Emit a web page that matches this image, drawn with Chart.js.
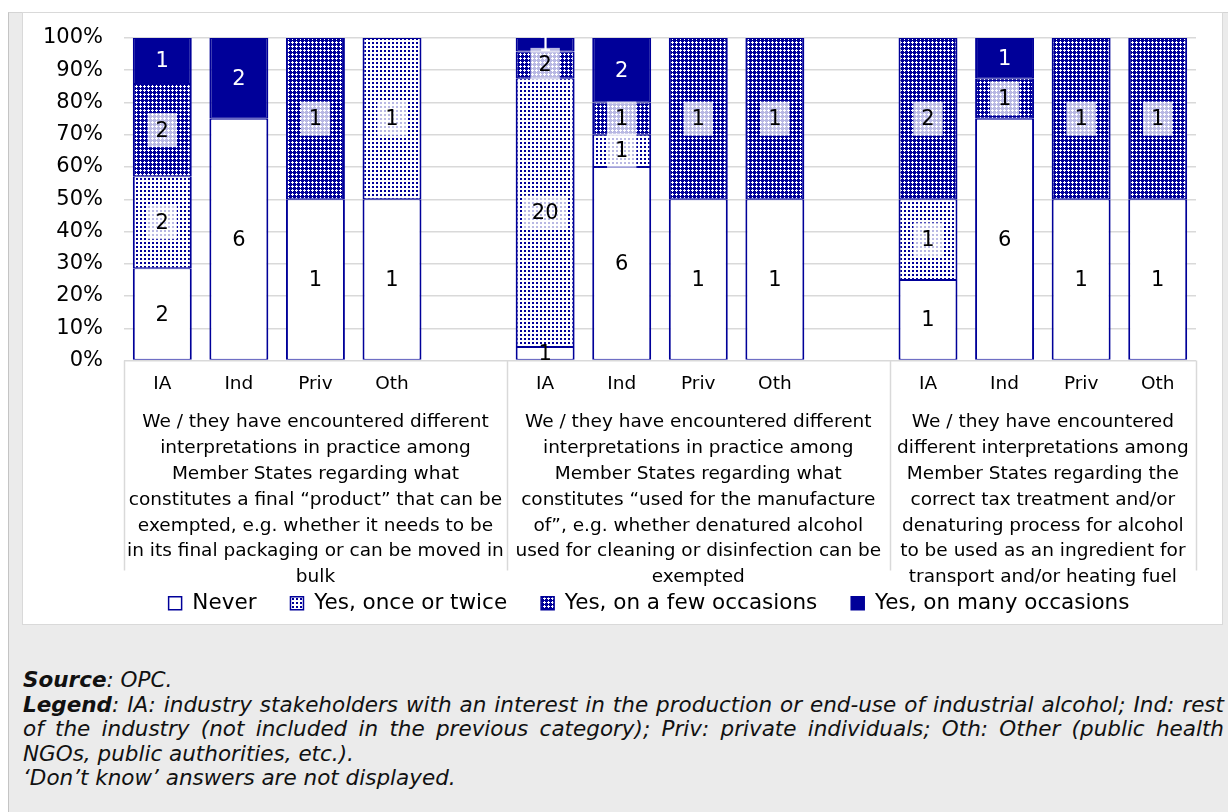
<!DOCTYPE html>
<html>
<head>
<meta charset="utf-8">
<script src="https://cdn.jsdelivr.net/npm/chart.js@4.4.1/dist/chart.umd.min.js"></script>
<style>
  html, body { margin: 0; padding: 0; background: #fff; }
  body { width: 1228px; height: 812px; position: relative; overflow: hidden; font-family: "DejaVu Sans", Verdana, sans-serif; }
  #panel { position: absolute; left: 8px; top: 12px; right: 0; bottom: 0; background: #ebebeb; border-left: 1px solid #c4c4c4; border-top: 1px solid #d4d4d4; }
  #box { position: absolute; left: 22px; top: 12px; width: 1201px; height: 613px; background: #fff; border: 1px solid #d9d9d9; box-sizing: border-box; }
  #chart { position: absolute; left: 23px; top: 13px; }
  #notes { position: absolute; left: 23px; top: 668px; width: 1201px; font-size: 21.5px; font-style: italic; line-height: 24.5px; color: #111; }
  #notes div { white-space: nowrap; }
  #notes .j { text-align: justify; text-align-last: justify; word-spacing: -4px; }
</style>
</head>
<body>
<div id="panel"></div>
<div id="box"></div>
<canvas id="chart" width="1199" height="611"></canvas>
<div id="notes">
  <div><b>Source</b>: OPC.</div>
  <div class="j"><b>Legend</b>: IA: industry stakeholders with an interest in the production or end-use of industrial alcohol; Ind: rest</div>
  <div class="j">of the industry (not included in the previous category); Priv: private individuals; Oth: Other (public health</div>
  <div>NGOs, public authorities, etc.).</div>
  <div>‘Don’t know’ answers are not displayed.</div>
</div>
<script>
const categories = ['IA','Ind','Priv','Oth','', 'IA','Ind','Priv','Oth','', 'IA','Ind','Priv','Oth'];
const seriesNames = ['Never', 'Yes, once or twice', 'Yes, on a few occasions', 'Yes, on many occasions'];
const never         = [2, 6, 1, 1, 0,  1, 6, 1, 1, 0,  1, 6, 1, 1];
const onceOrTwice   = [2, 0, 0, 1, 0, 20, 1, 0, 0, 0,  1, 0, 0, 0];
const fewOccasions  = [2, 0, 1, 0, 0,  2, 1, 1, 1, 0,  2, 1, 1, 1];
const manyOccasions = [1, 2, 0, 0, 0,  1, 2, 0, 0, 0,  0, 1, 0, 0];

// question groups: first and last category slot of each, and the wrapped text
const groupFirst = [0, 5, 10];
const groupLast = [4, 9, 13];
const groupText = [
  ['We / they have encountered different', 'interpretations in practice among', 'Member States regarding what',
   'constitutes a final “product” that can be', 'exempted, e.g. whether it needs to be',
   'in its final packaging or can be moved in', 'bulk'],
  ['We / they have encountered different', 'interpretations in practice among', 'Member States regarding what',
   'constitutes “used for the manufacture', 'of”, e.g. whether denatured alcohol',
   'used for cleaning or disinfection can be', 'exempted'],
  ['We / they have encountered', 'different interpretations among', 'Member States regarding the',
   'correct tax treatment and/or', 'denaturing process for alcohol', 'to be used as an ingredient for',
   'transport and/or heating fuel']
];

const counts = [never, onceOrTwice, fewOccasions, manyOccasions];
const totals = categories.map((c, i) => counts.reduce((a, s) => a + s[i], 0));
const shares = counts.map(s => s.map((v, i) => v && totals[i] ? v / totals[i] * 100 : null));

const BLUE = '#000099';
const FONT = '"DejaVu Sans", Verdana, sans-serif';

function tile(bg, fg, pts, w, h) {
  const c = document.createElement('canvas');
  c.width = w; c.height = h;
  const g = c.getContext('2d');
  g.fillStyle = bg; g.fillRect(0, 0, w, h);
  g.fillStyle = fg;
  pts.forEach(p => g.fillRect(p[0], p[1], p[2] || 1, p[3] || 1));
  return g.createPattern(c, 'repeat');
}
const ctx = document.getElementById('chart').getContext('2d');
const dotted = tile('#fff', BLUE, [[1, 1, 2, 2]], 4, 4);
const checked = tile(BLUE, '#fff', [[1, 0], [0, 1, 3, 1], [1, 2]], 4, 4);
const fills = ['#fff', dotted, checked, BLUE];

const labelsPlugin = {
  id: 'segLabels',
  afterDatasetsDraw(chart) {
    const c = chart.ctx;
    c.save();
    c.font = '21px ' + FONT;
    c.textAlign = 'center';
    c.textBaseline = 'middle';
    [3, 2, 1, 0].forEach(d => {
      chart.getDatasetMeta(d).data.forEach((bar, i) => {
        const v = counts[d][i];
        if (!v) return;
        const x = bar.x, y = (bar.y + bar.base) / 2;
        const w = c.measureText(String(v)).width;
        if (d === 1 || d === 2) {
          c.fillStyle = 'rgba(255,255,255,0.72)';
          c.fillRect(x - w / 2 - 8, y - 17, w + 16, 34);
        }
        c.fillStyle = d === 3 ? '#fff' : '#000';
        c.fillText(String(v), x, y + 1);
      });
    });
    c.restore();
  }
};

const groupPlugin = {
  id: 'groupAxis',
  afterLayout(chart) {
    // Excel centres the legend a little left of the plot centre
    chart.legend.left -= 11;
    chart.legend.right -= 11;
  },
  afterDraw(chart) {
    const c = chart.ctx, xs = chart.scales.x, bottom = chart.chartArea.bottom;
    const slot = xs.width / categories.length;
    c.save();
    c.strokeStyle = '#d9d9d9';
    c.lineWidth = 1.5;
    const edges = groupFirst.map(i => xs.getPixelForValue(i) - slot / 2);
    edges.push(xs.getPixelForValue(categories.length - 1) + slot / 2);
    edges.forEach(x => {
      c.beginPath(); c.moveTo(Math.round(x) + 0.5, bottom); c.lineTo(Math.round(x) + 0.5, bottom + 210); c.stroke();
    });
    c.font = '18.5px ' + FONT;
    c.fillStyle = '#000';
    c.textAlign = 'center';
    c.textBaseline = 'middle';
    groupText.forEach((lines, g) => {
      const cx = (xs.getPixelForValue(groupFirst[g]) + xs.getPixelForValue(groupLast[g])) / 2;
      lines.forEach((t, k) => c.fillText(t, cx, bottom + 62 + k * 25.8));
    });
    c.restore();
  }
};

new Chart(ctx, {
  type: 'bar',
  data: {
    labels: categories,
    datasets: seriesNames.map((name, d) => ({
      label: name,
      data: shares[d],
      backgroundColor: fills[d],
      borderColor: BLUE,
      borderWidth: {left: 2, right: 2, top: 1, bottom: 1},
      borderSkipped: false,
      categoryPercentage: 1,
      barPercentage: 0.77
    }))
  },
  options: {
    responsive: false,
    animation: false,
    layout: {padding: {top: 25, left: 0, right: 26, bottom: 0}},
    scales: {
      x: {
        stacked: true,
        grid: {display: false},
        border: {display: false},
        ticks: {font: {family: FONT, size: 18.5}, color: '#000', padding: 5, maxRotation: 0, autoSkip: false},
        afterFit: s => { s.height = 198; }
      },
      y: {
        stacked: true,
        min: 0, max: 100,
        border: {display: false},
        grid: {color: '#d9d9d9', lineWidth: 1.5, drawTicks: false},
        ticks: {stepSize: 10, callback: v => v + '%', font: {family: FONT, size: 21}, color: '#000', padding: 21},
        afterFit: s => { s.width = 101; s.paddingTop = 0; s.paddingBottom = 0; }
      }
    },
    plugins: {
      tooltip: {enabled: false},
      legend: {
        position: 'bottom',
        fullSize: false,
        labels: {boxWidth: 13, boxHeight: 13, font: {family: FONT, size: 21.5}, color: '#000', padding: 34}
      }
    }
  },
  plugins: [labelsPlugin, groupPlugin]
});
</script>
</body>
</html>
